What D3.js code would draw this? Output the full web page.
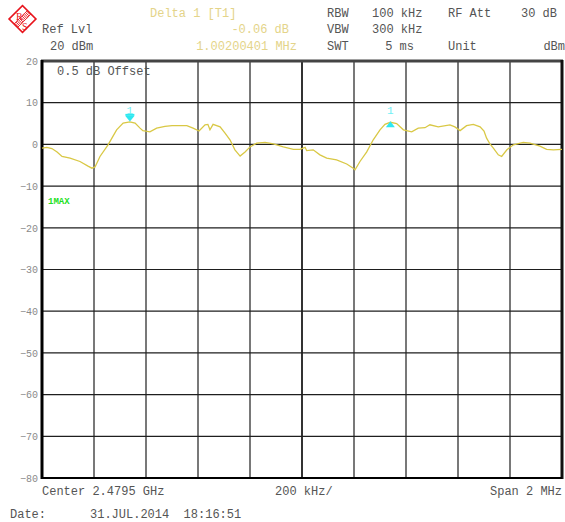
<!DOCTYPE html>
<html><head><meta charset="utf-8">
<script src="https://cdn.jsdelivr.net/npm/d3@7"></script>
<style>
html,body{margin:0;padding:0;background:#fff;}
svg{display:block;}
text{font-family:"Liberation Mono","DejaVu Sans Mono",monospace;}
</style></head>
<body>
<svg id="c" width="565" height="522"></svg>
<script>
// ---- data ----
const freqOffsetKHz = [-1000,-981,-962,-942,-923,-892,-854,-823,-808,-796,-777,-746,-713,-688,-662,-642,-623,-612,-585,-559,-527,-500,-443,-419,-396,-373,-362,-354,-342,-315,-296,-277,-258,-238,-219,-200,-174,-142,-110,-72,-33,-8,12,18,43,69,95,133,172,197,204,223,249,274,300,319,340,364,390,422,447,473,492,524,569,588,608,633,659,685,700,710,723,736,755,768,788,813,851,877,915,941,967,1000];
const levelDbm = [-0.9,-0.7,-1.0,-1.8,-2.9,-3.3,-4.1,-5.2,-5.7,-5.4,-2.9,-0.1,3.5,5.1,5.4,5.1,3.9,3.3,3.0,3.9,4.3,4.5,4.5,3.9,3.2,4.7,4.8,3.5,4.8,4.2,2.7,1.1,-1.3,-2.8,-1.8,-0.6,0.3,0.5,0.1,-0.6,-1.2,-1.2,-0.7,-1.5,-1.3,-2.5,-3.3,-3.7,-4.7,-5.7,-6.1,-4.1,-1.8,1.1,3.5,4.8,5.3,5.0,3.5,3.0,3.9,4.0,4.7,4.2,4.7,4.2,3.3,4.5,4.8,4.2,3.2,1.5,0.1,-0.9,-2.5,-2.9,-1.3,-0.1,0.5,0.3,-0.4,-1.2,-1.3,-1.2];
const yTicks = [20,10,0,-10,-20,-30,-40,-50,-60,-70,-80];
const xGridKHz = [-1000,-800,-600,-400,-200,0,200,400,600,800,1000];
const markerFreq = [-662, 340];
const markerLevel = [5.4, 5.3];
const markerDir = ["down","up"];
const markerLabel = ["1","1"];

// ---- scales ----
const svg = d3.select("#c");
const x = d3.scaleLinear().domain([-1000,1000]).range([42,562]);
const y = d3.scaleLinear().domain([-80,20]).range([478,61]);

// grid
const g = svg.append("g");
g.selectAll("line.v").data(xGridKHz.slice(1,-1)).join("line")
  .attr("x1",d=>x(d)).attr("x2",d=>x(d)).attr("y1",y(20)).attr("y2",y(-80))
  .attr("stroke",d=>(d===0)?"#333":"#1e1e1e").attr("stroke-width",d=>d===0?2:1.2);
g.selectAll("line.h").data(yTicks.slice(1,-1)).join("line")
  .attr("x1",x(-1000)).attr("x2",x(1000)).attr("y1",d=>y(d)).attr("y2",d=>y(d))
  .attr("stroke","#1e1e1e").attr("stroke-width",1.2);

// frame
svg.append("line").attr("x1",x(-1000)-1).attr("x2",x(1000)+1).attr("y1",y(20)).attr("y2",y(20)).attr("stroke","#444").attr("stroke-width",3);
svg.append("line").attr("x1",x(-1000)).attr("x2",x(-1000)).attr("y1",y(20)-1).attr("y2",y(-80)+1).attr("stroke","#000").attr("stroke-width",3);
svg.append("line").attr("x1",x(1000)).attr("x2",x(1000)).attr("y1",y(20)-1).attr("y2",y(-80)+1).attr("stroke","#111").attr("stroke-width",3);
svg.append("line").attr("x1",x(-1000)).attr("x2",x(1000)).attr("y1",y(-80)).attr("y2",y(-80)).attr("stroke","#000").attr("stroke-width",2);

// y axis labels
const ax = d3.axisLeft(y).tickValues(yTicks).tickSize(0).tickPadding(3).tickFormat(d3.format("d"));
const axg = svg.append("g").attr("transform",`translate(${x(-1000)-1},0)`).call(ax);
axg.select(".domain").remove();
axg.selectAll("text").attr("fill","#8a8a8a").style("font-size","10px").style("font-family","'Liberation Mono',monospace");

// trace
const pts = freqOffsetKHz.map((f,i)=>[f,levelDbm[i]]);
svg.append("path").datum(pts)
  .attr("d",d3.line().x(d=>x(d[0])).y(d=>y(d[1])))
  .attr("fill","none").attr("stroke","#d9c845").attr("stroke-width",1.3);

// markers
markerFreq.forEach((f,i)=>{
  const mx=x(f), my=y(markerLevel[i]);
  const tri = markerDir[i]==="down"
    ? `M${mx-4.5},${my-6}L${mx+4.5},${my-6}L${mx},${my-0.5}Z`
    : `M${mx-4.5},${my+5}L${mx+4.5},${my+5}L${mx},${my-1}Z`;
  svg.append("path").attr("d",tri).attr("fill","#2ee8f0");
  if(markerDir[i]==="down") svg.append("rect").attr("x",mx-4.5).attr("y",my-8).attr("width",9).attr("height",2).attr("fill","#2ee8f0");
  svg.append("text").attr("x",mx).attr("y",my-8).attr("text-anchor","middle")
    .attr("fill","#70f0f5").style("font-size","11px").text(markerLabel[i]);
});

// texts
function t(xp,yp,s,col,size,anchor,weight){
  svg.append("text").attr("x",xp).attr("y",yp).attr("fill",col)
    .attr("text-anchor",anchor||"start").style("font-size",(size||12)+"px")
    .style("font-weight",weight||"normal").attr("xml:space","preserve").text(s);
}
const grey="#555", yel="#e4d489";
t(150,17,"Delta 1 [T1]",yel);
t(42,33,"Ref Lvl",grey);
t(50,50,"20 dBm",grey);
t(289,33,"-0.06 dB",yel,12,"end");
t(297,50,"1.00200401 MHz",yel,12,"end");
t(327,17,"RBW",grey); t(372,17,"100 kHz",grey); t(448,17,"RF Att",grey); t(557,17,"30 dB",grey,12,"end");
t(327,33,"VBW",grey); t(372,33,"300 kHz",grey);
t(327,50,"SWT",grey); t(414,50,"5 ms",grey,12,"end"); t(448,50,"Unit",grey); t(565,50,"dBm",grey,12,"end");
t(57,75,"0.5 dB Offset",grey);
t(48,204,"1MAX","#22e022",9,"start","bold");
t(42,495,"Center 2.4795 GHz",grey);
t(275,495,"200 kHz/",grey);
t(562,495,"Span 2 MHz",grey,12,"end");
t(10,518,"Date:",grey);
t(90,518,"31.JUL.2014  18:16:51",grey);

// logo (R&S diamond)
const red="#e8141c";
const lg = svg.append("g").attr("transform","translate(22.5,19) rotate(45)");
lg.append("rect").attr("x",-9.5).attr("y",-9.5).attr("width",19).attr("height",19).attr("fill","#fff").attr("stroke",red).attr("stroke-width",1.6);
lg.append("line").attr("x1",-2.5).attr("x2",-2.5).attr("y1",-9.5).attr("y2",9.5).attr("stroke",red).attr("stroke-width",0.8);
lg.append("line").attr("x1",2.5).attr("x2",2.5).attr("y1",-9.5).attr("y2",9.5).attr("stroke",red).attr("stroke-width",0.8);
d3.range(-8.5,9.5,1.7).forEach(v=>{
  lg.append("line").attr("x1",-2.5).attr("x2",2.5).attr("y1",v).attr("y2",v).attr("stroke",red).attr("stroke-width",0.9);
});
svg.append("text").attr("x",16).attr("y",20).attr("fill",red).style("font-size","10px").style("font-family","'Liberation Serif',serif").text("R");
svg.append("text").attr("x",22).attr("y",30).attr("fill",red).style("font-size","10px").style("font-family","'Liberation Serif',serif").text("S");
</script>
</body></html>
